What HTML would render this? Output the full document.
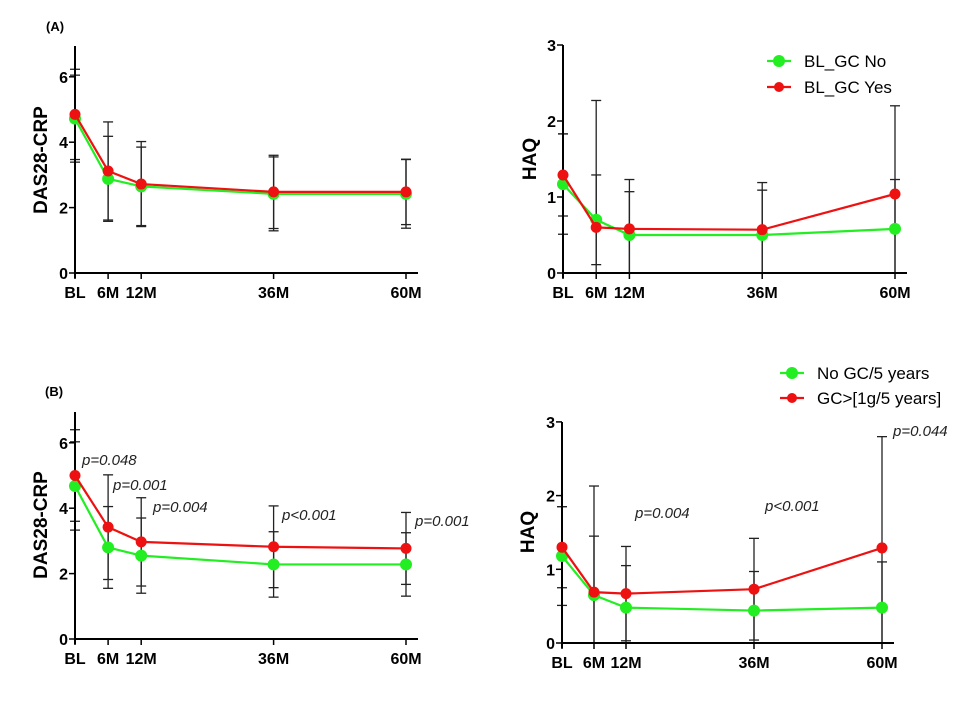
<!DOCTYPE html>
<html><head><meta charset="utf-8">
<style>
html,body{margin:0;padding:0;background:#fff;}
svg{display:block;font-family:"Liberation Sans",Arial,sans-serif;}
</style></head>
<body>
<svg id="chart" width="980" height="702" viewBox="0 0 980 702">
<text x="46" y="31" font-size="13" font-weight="bold">(A)</text>
<text x="45" y="396" font-size="13" font-weight="bold">(B)</text>
</svg>
<script>
const months = [0, 6, 12, 36, 60];
const xLabels = ["BL", "6M", "12M", "36M", "60M"];
const dasTicks = [0, 2, 4, 6];
const haqTicks = [0, 1, 2, 3];
// Panel A left (DAS28-CRP)
const aDasGreen = [4.72, 2.88, 2.65, 2.42, 2.42];
const aDasGreenSd = [1.33, 1.3, 1.2, 1.13, 1.05];
const aDasRed = [4.85, 3.12, 2.72, 2.48, 2.48];
const aDasRedSd = [1.38, 1.5, 1.3, 1.12, 1.0];
// Panel A right (HAQ)
const aHaqGreen = [1.17, 0.7, 0.5, 0.5, 0.58];
const aHaqGreenSd = [0.66, 0.59, 0.57, 0.59, 0.65];
const aHaqRed = [1.29, 0.6, 0.58, 0.57, 1.04];
const aHaqRedSd = [0.54, 1.67, 0.65, 0.62, 1.16];
// Panel B left (DAS28-CRP)
const bDasGreen = [4.68, 2.8, 2.55, 2.28, 2.28];
const bDasGreenSd = [1.35, 1.25, 1.15, 1.0, 0.97];
const bDasRed = [5.0, 3.42, 2.97, 2.82, 2.77];
const bDasRedSd = [1.4, 1.6, 1.35, 1.25, 1.1];
const bDasP = ["p=0.048", "p=0.001", "p=0.004", "p<0.001", "p=0.001"];
// Panel B right (HAQ)
const bHaqGreen = [1.18, 0.65, 0.48, 0.44, 0.48];
const bHaqGreenSd = [0.67, 0.8, 0.57, 0.53, 0.62];
const bHaqRed = [1.3, 0.69, 0.67, 0.73, 1.29];
const bHaqRedSd = [0.55, 1.44, 0.64, 0.69, 1.51];
const bHaqP = ["", "", "p=0.004", "p<0.001", "p=0.044"];
const legendA = ["BL_GC No", "BL_GC Yes"];
const legendB = ["No GC/5 years", "GC>[1g/5 years]"];

const NS = "http://www.w3.org/2000/svg";
const svg = document.getElementById("chart");
function mk(tag, attrs, parent, text) {
  const e = document.createElementNS(NS, tag);
  for (const k in attrs) e.setAttribute(k, attrs[k]);
  if (text !== undefined) e.textContent = text;
  (parent || svg).appendChild(e);
  return e;
}

function panel(cfg) {
  const g = mk("g", {});
  
  
  const xs = m => cfg.x0 + (m / 60) * (cfg.x1 - cfg.x0);
  const ys = v => cfg.y0 - v * cfg.unit;
  [[cfg.g, cfg.gs], [cfg.r, cfg.rs]].forEach(([vals, sds]) => {
    vals.forEach((v, i) => {
      const x = xs(months[i]);
      const hi = v + sds[i], lo = Math.max(0, v - sds[i]);
      const eb = mk("g", {}, g);
      
      
      mk("line", {x1: x, x2: x, y1: ys(hi), y2: ys(lo), stroke: "#222", "stroke-width": 1.3}, eb);
      mk("line", {x1: x - 5, x2: x + 5, y1: ys(hi), y2: ys(hi), stroke: "#222", "stroke-width": 1.3}, eb);
      mk("line", {x1: x - 5, x2: x + 5, y1: ys(lo), y2: ys(lo), stroke: "#222", "stroke-width": 1.3}, eb);
    });
  });
  const yax = mk("line", {x1: cfg.x0, x2: cfg.x0, y1: cfg.top, y2: cfg.y0 + 5, stroke: "#000", "stroke-width": 2}, g);
  
  
  const xax = mk("line", {x1: cfg.x0 - 1, x2: cfg.xend, y1: cfg.y0, y2: cfg.y0, stroke: "#000", "stroke-width": 2}, g);
  
  
  cfg.ticks.forEach(t => {
    mk("line", {x1: cfg.x0 - 6, x2: cfg.x0, y1: ys(t), y2: ys(t), stroke: "#000", "stroke-width": 1.5}, g);
    const tl = mk("text", {x: cfg.x0 - 7, y: ys(t) + 6, "font-size": 16, "font-weight": "bold", "text-anchor": "end"}, g, String(t));
    
    
  });
  months.forEach((m, i) => {
    mk("line", {x1: xs(m), x2: xs(m), y1: cfg.y0, y2: cfg.y0 + 6, stroke: "#000", "stroke-width": 1.5}, g);
    const xl = mk("text", {x: xs(m), y: cfg.y0 + 25, "font-size": 16, "font-weight": "bold", "text-anchor": "middle"}, g, xLabels[i]);
    
    
  });
  const yt = mk("text", {x: 0, y: 0, "font-size": 19, "font-weight": "bold", "text-anchor": "middle",
    transform: `translate(${cfg.titleX},${cfg.titleY}) rotate(-90)`}, g, cfg.title);
  
  
  [[cfg.g, "#22ee22", "series-green", 6], [cfg.r, "#ee1111", "series-red", 5.5]].forEach(([vals, col, nm, rad]) => {
    const sg = mk("g", {}, g);
    
    
    const pts = vals.map((v, i) => xs(months[i]) + "," + ys(v)).join(" ");
    mk("polyline", {points: pts, fill: "none", stroke: col, "stroke-width": 2.2}, sg);
    vals.forEach((v, i) => {
      const c = mk("circle", {cx: xs(months[i]), cy: ys(v), r: rad, fill: col}, sg);
      
      
    });
  });
  if (cfg.p) {
    cfg.p.forEach((txt, i) => {
      if (!txt) return;
      const t = mk("text", {x: cfg.pPos[i][0], y: cfg.pPos[i][1], "font-size": 15, "font-style": "italic", fill: "#222"}, g, txt);
      
      
    });
  }
  if (cfg.legend) {
    const lg = mk("g", {}, g);
    
    
    [["#22ee22", 6], ["#ee1111", 5]].forEach(([col, rad], i) => {
      const ly = cfg.legY + i * cfg.legGap;
      const le = mk("g", {}, lg);
      
      
      mk("line", {x1: cfg.legX, x2: cfg.legX + 24, y1: ly, y2: ly, stroke: col, "stroke-width": 2.2}, le);
      mk("circle", {cx: cfg.legX + 12, cy: ly, r: rad, fill: col}, le);
      mk("text", {x: cfg.legX + 37, y: ly + 6, "font-size": 17}, le, cfg.legend[i]);
    });
  }
}

panel({name: "panel-a-das28", x0: 75, x1: 406, xend: 418, y0: 273, unit: 32.7, top: 46, ticks: dasTicks,
  title: "DAS28-CRP", titleX: 47, titleY: 160,
  g: aDasGreen, gs: aDasGreenSd, r: aDasRed, rs: aDasRedSd});
panel({name: "panel-a-haq", x0: 563, x1: 895, xend: 907, y0: 273, unit: 76, top: 45, ticks: haqTicks,
  title: "HAQ", titleX: 536, titleY: 159,
  g: aHaqGreen, gs: aHaqGreenSd, r: aHaqRed, rs: aHaqRedSd,
  legend: legendA, legX: 767, legY: 61, legGap: 26});
panel({name: "panel-b-das28", x0: 75, x1: 406, xend: 418, y0: 639, unit: 32.7, top: 412, ticks: dasTicks,
  title: "DAS28-CRP", titleX: 47, titleY: 525,
  g: bDasGreen, gs: bDasGreenSd, r: bDasRed, rs: bDasRedSd,
  p: bDasP, pPos: [[82, 465], [113, 490], [153, 512], [282, 520], [415, 526]]});
panel({name: "panel-b-haq", x0: 562, x1: 882, xend: 894, y0: 643, unit: 73.7, top: 422, ticks: haqTicks,
  title: "HAQ", titleX: 534, titleY: 532,
  g: bHaqGreen, gs: bHaqGreenSd, r: bHaqRed, rs: bHaqRedSd,
  p: bHaqP, pPos: [[0, 0], [0, 0], [635, 518], [765, 511], [893, 436]],
  legend: legendB, legX: 780, legY: 373, legGap: 25});
</script>
</body></html>
